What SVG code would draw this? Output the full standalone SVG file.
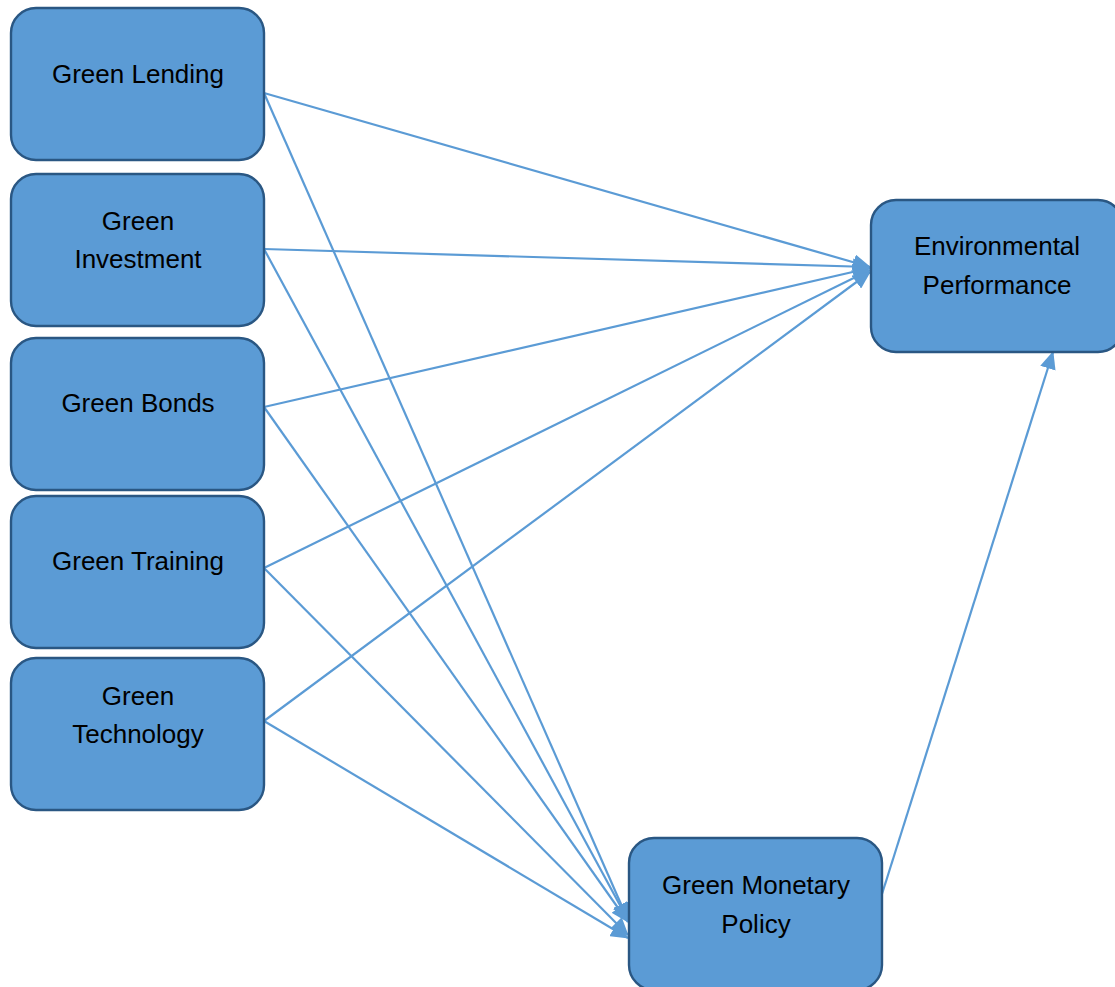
<svg xmlns="http://www.w3.org/2000/svg" width="1115" height="987" viewBox="0 0 1115 987">
  <style>
    .box { fill: #5b9bd5; stroke: #2a5783; stroke-width: 2.4; }
    .lbl { font-family: "Liberation Sans", Arial, sans-serif; font-size: 26px; fill: #000; text-anchor: middle; }
    .edge { stroke: #5b9bd5; stroke-width: 2.2; fill: none; marker-end: url(#arrow); }
  </style>
  <defs>
    <marker id="arrow" markerUnits="userSpaceOnUse" viewBox="0 0 18 16" refX="17" refY="8" markerWidth="18" markerHeight="16" orient="auto">
      <path d="M0,0 L18,8 L0,16 Z" fill="#5b9bd5"/>
    </marker>
  </defs>
  <rect width="1115" height="987" fill="#ffffff"/>

  <!-- connectors -->
  <g id="connectors">
    <line class="edge" x1="264" y1="93" x2="870" y2="267"/>
    <line class="edge" x1="264" y1="249" x2="870" y2="267"/>
    <line class="edge" x1="264" y1="407" x2="870" y2="268"/>
    <line class="edge" x1="264" y1="568" x2="870" y2="270"/>
    <line class="edge" x1="264" y1="721" x2="870" y2="272"/>
    <line class="edge" x1="264" y1="93" x2="628" y2="920"/>
    <line class="edge" x1="264" y1="249" x2="628" y2="920"/>
    <line class="edge" x1="264" y1="407" x2="628" y2="922"/>
    <line class="edge" x1="264" y1="568" x2="628" y2="935"/>
    <line class="edge" x1="264" y1="721" x2="628" y2="938"/>
    <line class="edge" x1="882" y1="894" x2="1053" y2="352"/>
  </g>

  <g id="green-lending">
    <rect class="box" x="11" y="8" width="253" height="152" rx="25"/>
    <text class="lbl" x="138" y="83">Green Lending</text>
  </g>
  <g id="green-investment">
    <rect class="box" x="11" y="174" width="253" height="152" rx="25"/>
    <text class="lbl" x="138" y="230">Green</text>
    <text class="lbl" x="138" y="268">Investment</text>
  </g>
  <g id="green-bonds">
    <rect class="box" x="11" y="338" width="253" height="152" rx="25"/>
    <text class="lbl" x="138" y="412">Green Bonds</text>
  </g>
  <g id="green-training">
    <rect class="box" x="11" y="496" width="253" height="152" rx="25"/>
    <text class="lbl" x="138" y="570">Green Training</text>
  </g>
  <g id="green-technology">
    <rect class="box" x="11" y="658" width="253" height="152" rx="25"/>
    <text class="lbl" x="138" y="705">Green</text>
    <text class="lbl" x="138" y="743">Technology</text>
  </g>
  <g id="environmental-performance">
    <rect class="box" x="871" y="200" width="252" height="152" rx="25"/>
    <text class="lbl" x="997" y="255">Environmental</text>
    <text class="lbl" x="997" y="294">Performance</text>
  </g>
  <g id="green-monetary-policy">
    <rect class="box" x="629" y="838" width="253" height="152" rx="25"/>
    <text class="lbl" x="756" y="894">Green Monetary</text>
    <text class="lbl" x="756" y="933">Policy</text>
  </g>
</svg>
